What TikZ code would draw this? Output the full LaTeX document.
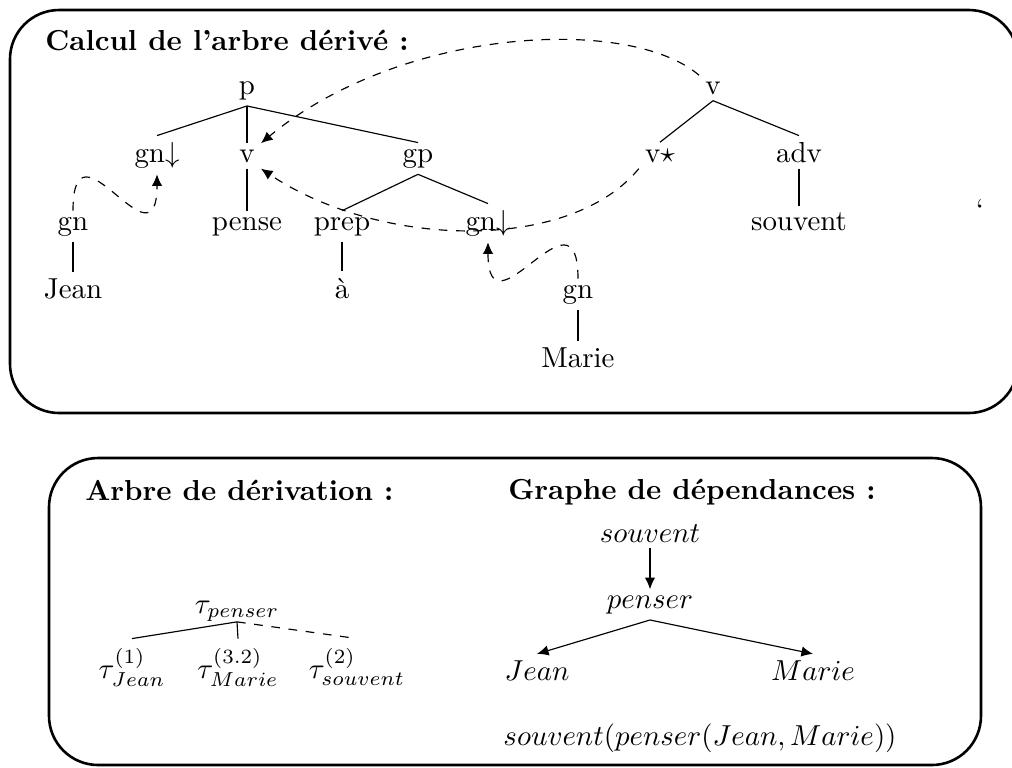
\documentclass[tikz,border=0pt]{standalone}
\usetikzlibrary{arrows.meta}
\begin{document}
\begin{tikzpicture}[
            x = 0.346pt, y = -0.346pt, % pixel grid
            > = {Latex[length=4pt,width=3.6pt]}, % arrow head style
            thin, % line style
            every node/.style = {inner sep=2pt, anchor=base},
            frame/.style = {line width=0.9pt, rounded corners=17pt},
            title/.style = {font=\bfseries, anchor=base west},
            subst/.style = {->, dashed}
        ]
        \clip (0,0) rectangle (1012,767);

        % cadres
        \draw[frame] (10,10) rectangle (1018,413);
        \draw[frame] (49,458) rectangle (981,765);

        \node[title] (tCalc)  at (39,50)   {Calcul de l'arbre dérivé :};
        \node[title] (tDeriv) at (79,500)  {Arbre de dérivation :};
        \node[title] (tDep)   at (502,499) {Graphe de dépendances :};

        % arbre de penser
        \node (p)     at (247,94)  {p};
        \node (gnA)   at (157,162) {gn$\downarrow$};
        \node (vM)    at (247,162) {v};
        \node (gp)    at (418,162) {gp};
        \node (pense) at (247,230) {pense};
        \node (prep)  at (342,230) {prep};
        \node (gnB)   at (488,230) {gn$\downarrow$};
        \node (a)     at (342,298) {à};
        % arbre de Jean
        \node (gnJ)   at (73,230)  {gn};
        \node (jean)  at (73,298)  {Jean};
        % arbre de Marie
        \node (gnM)   at (578,298) {gn};
        \node (marie) at (578,367) {Marie};
        % arbre de souvent
        \node (vR)    at (713,94)  {v};
        \node (vS)    at (660,162) {v$\star$};
        \node (adv)   at (799,162) {adv};
        \node (souv)  at (799,230) {souvent};
        \node (quote) at (980,219) {\textquoteleft};

        \path (p.south)    edge (gnA.north);
        \path (p.south)    edge (vM.north);
        \path (p.south)    edge (gp.north);
        \path (vM.south)   edge (pense.north);
        \path (gp.south)   edge (prep.north);
        \path (gp.south)   edge (gnB.north);
        \path (prep.south) edge (a.north);
        \path (gnJ.south)  edge (jean.north);
        \path (gnM.south)  edge (marie.north);
        \path (vR.south)   edge (vS.north);
        \path (vR.south)   edge (adv.north);
        \path (adv.south)  edge (souv.north);

        % substitutions et adjonction
        \draw[subst] (gnJ.north) .. controls +(0,-100) and +(0,100) .. (gnA.south);
        \draw[subst] (gnM.north) .. controls +(0,-100) and +(0,100) .. (gnB.south);
        \draw[subst] (vR.north west) .. controls +(-70,-60) and +(140,-116) .. (vM.north east);
        \draw[subst] (vS.south west) .. controls +(-69,84) and +(120,80) .. (vM.south east);

        % arbre de derivation
        \node[inner sep=0pt] (tP) at (237,613) {$\tau_{penser}$};
        \node[inner sep=3pt] (tJ) at (132,678) {$\tau^{(1)}_{Jean}$};
        \node[inner sep=3pt] (tM) at (238,678) {$\tau^{(3.2)}_{Marie}$};
        \node[inner sep=3pt] (tS) at (357,678) {$\tau^{(2)}_{souvent}$};
        \path (tP.south) edge (tJ.north);
        \path (tP.south) edge (tM.north);
        \path (tP.south) edge [dashed] (tS.north);

        % graphe de dependances
        \node (dSouv)   at (650,542) {$souvent$};
        \node (dPenser) at (650,608) {$penser$};
        \node (dJean)   at (537,680) {$Jean$};
        \node (dMarie)  at (813,680) {$Marie$};
        \node (formule) at (700,745) {$souvent(penser(Jean,Marie))$};
        \path[->] (dSouv.south)   edge (dPenser.north);
        \path[->] (dPenser.south) edge (dJean.north);
        \path[->] (dPenser.south) edge (dMarie.north);
    \end{tikzpicture}
\end{document}
